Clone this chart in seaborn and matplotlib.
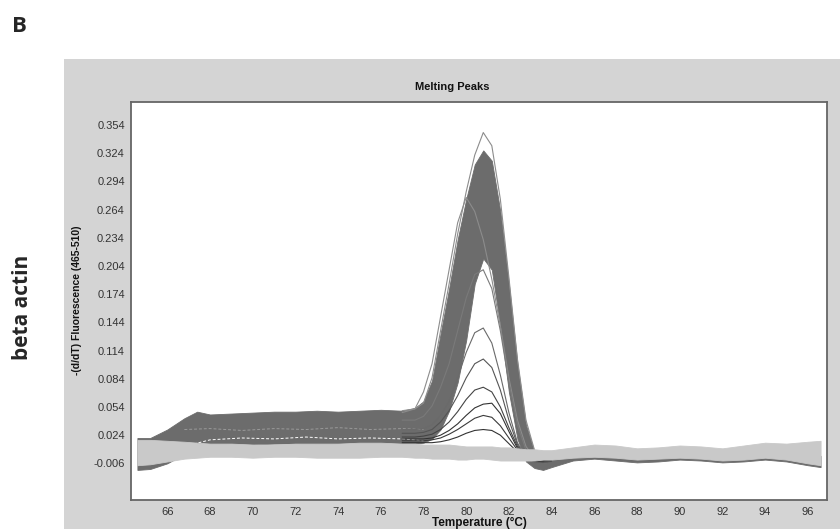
import numpy as np
import pandas as pd
import matplotlib
matplotlib.use("Agg")
import matplotlib.pyplot as plt
from matplotlib.patches import Rectangle
from matplotlib.ticker import MultipleLocator, FormatStrFormatter
import seaborn as sns

# Temperature grid shared by the two envelope bands (deg C)
temp = [64.6, 65.2, 66.0, 66.8, 67.4, 68.0, 69.0, 70.0, 71.0, 72.0, 73.0, 74.0,
        75.0, 76.0, 77.0, 77.6, 78.0, 78.4, 78.8, 79.2, 79.6, 80.0, 80.4, 80.8,
        81.2, 81.6, 82.0, 82.4, 82.8, 83.2, 83.6, 84.0, 85.0, 86.0, 87.0, 88.0,
        89.0, 90.0, 91.0, 92.0, 93.0, 94.0, 95.0, 96.0, 96.6]

# dense mass of beta actin sample curves (upper / lower edge)
band_top = [0.021, 0.021, 0.030, 0.042, 0.049, 0.046, 0.047, 0.048, 0.049, 0.049, 0.050, 0.049,
            0.050, 0.051, 0.050, 0.053, 0.060, 0.082, 0.132, 0.180, 0.232, 0.275, 0.312, 0.327,
            0.316, 0.262, 0.185, 0.100, 0.035, 0.006, 0.000, 0.002, 0.006, 0.008, 0.006, 0.004,
            0.004, 0.005, 0.005, 0.003, 0.004, 0.006, 0.006, 0.004, 0.002]
band_bot = [-0.013, -0.012, -0.006, 0.004, 0.012, 0.014, 0.015, 0.014, 0.015, 0.015, 0.014, 0.015,
            0.015, 0.014, 0.015, 0.015, 0.016, 0.020, 0.030, 0.050, 0.080, 0.125, 0.185, 0.212,
            0.200, 0.140, 0.070, 0.020, -0.004, -0.011, -0.013, -0.010, -0.003, -0.001, -0.003, -0.005,
            -0.004, -0.002, -0.003, -0.005, -0.004, -0.002, -0.004, -0.008, -0.010]

# no-template controls (light grey flat band)
light_top = [0.019, 0.019, 0.018, 0.017, 0.016, 0.015, 0.015, 0.014, 0.014, 0.015, 0.015, 0.015,
             0.016, 0.016, 0.015, 0.015, 0.014, 0.014, 0.014, 0.014, 0.013, 0.012, 0.012, 0.012,
             0.012, 0.011, 0.011, 0.010, 0.009, 0.009, 0.008, 0.008, 0.011, 0.014, 0.013, 0.010,
             0.011, 0.013, 0.012, 0.010, 0.013, 0.016, 0.015, 0.017, 0.018]
light_bot = [-0.008, -0.007, -0.004, -0.001, 0.000, 0.001, 0.001, 0.000, 0.001, 0.001, 0.000, 0.000,
             0.000, 0.001, 0.001, 0.000, 0.000, -0.001, -0.001, -0.001, -0.002, -0.002, -0.001, -0.001,
             -0.002, -0.003, -0.003, -0.003, -0.003, -0.003, -0.002, -0.002, 0.000, 0.001, 0.000, -0.002,
             -0.001, 0.000, -0.001, -0.003, -0.002, 0.000, -0.002, -0.006, -0.008]

# white streaks between sample curves in the baseline band
gap_temp = [66.8, 68.0, 69.5, 71.0, 72.5, 74.0, 75.5, 77.0, 78.0]
gap_low = [0.012, 0.019, 0.021, 0.020, 0.022, 0.020, 0.021, 0.020, 0.018]
gap_high = [0.030, 0.031, 0.029, 0.031, 0.030, 0.032, 0.030, 0.031, 0.030]

# single curves that stand out around the peak
peak_temp = [77.0, 77.6, 78.0, 78.4, 78.8, 79.2, 79.6, 80.0, 80.4, 80.8, 81.2, 81.6,
             82.0, 82.4, 82.8, 83.2, 83.6, 84.0]
curve_max = [0.050, 0.052, 0.058, 0.085, 0.135, 0.185, 0.238, 0.283, 0.322, 0.346, 0.332, 0.275,
             0.192, 0.105, 0.040, 0.008, 0.000, 0.002]
curve_early = [0.048, 0.052, 0.070, 0.100, 0.150, 0.200, 0.250, 0.277, 0.262, 0.232, 0.190, 0.140,
               0.085, 0.040, 0.012, 0.000, -0.004, -0.002]
curve_mid = [0.040, 0.040, 0.044, 0.055, 0.075, 0.100, 0.135, 0.170, 0.195, 0.200, 0.180, 0.135,
             0.080, 0.035, 0.008, -0.004, -0.006, -0.004]
curve_140 = [0.030, 0.030, 0.031, 0.035, 0.045, 0.060, 0.085, 0.112, 0.133, 0.138, 0.122, 0.088,
             0.048, 0.016, 0.000, -0.005, -0.006, -0.004]
curve_105 = [0.026, 0.026, 0.027, 0.030, 0.038, 0.050, 0.066, 0.085, 0.100, 0.105, 0.096, 0.072,
             0.040, 0.014, 0.000, -0.004, -0.005, -0.004]
curve_075 = [0.022, 0.022, 0.023, 0.025, 0.030, 0.038, 0.049, 0.062, 0.072, 0.075, 0.070, 0.054,
             0.032, 0.012, 0.000, -0.004, -0.004, -0.003]
curve_058 = [0.020, 0.020, 0.020, 0.021, 0.024, 0.029, 0.036, 0.045, 0.053, 0.057, 0.058, 0.047,
             0.028, 0.010, 0.000, -0.003, -0.003, -0.002]
curve_045 = [0.018, 0.018, 0.018, 0.019, 0.021, 0.025, 0.030, 0.036, 0.042, 0.045, 0.043, 0.034,
             0.021, 0.008, 0.000, -0.003, -0.003, -0.002]
curve_030 = [0.016, 0.016, 0.016, 0.016, 0.017, 0.019, 0.022, 0.026, 0.029, 0.030, 0.029, 0.024,
             0.015, 0.006, 0.000, -0.002, -0.002, -0.001]

DARK = '#6c6c6c'
LIGHT = '#c9c9c9'
PANEL = '#d4d4d4'

curves = {
    'max': (curve_max, '#8c8c8c'),
    'early': (curve_early, '#8c8c8c'),
    'mid': (curve_mid, '#7a7a7a'),
    'c140': (curve_140, '#6a6a6a'),
    'c105': (curve_105, '#555555'),
    'c075': (curve_075, '#444444'),
    'c058': (curve_058, '#333333'),
    'c045': (curve_045, '#3a3a3a'),
    'c030': (curve_030, '#333333'),
}
df = pd.concat([pd.DataFrame({'temp': peak_temp, 'value': vals, 'curve': name})
                for name, (vals, _) in curves.items()], ignore_index=True)
palette = {name: col for name, (_, col) in curves.items()}

gaps = pd.concat([pd.DataFrame({'temp': gap_temp, 'value': gap_low, 'curve': 'low'}),
                  pd.DataFrame({'temp': gap_temp, 'value': gap_high, 'curve': 'high'})],
                 ignore_index=True)

sns.set_style("white")
plt.rcParams['font.family'] = ['Liberation Sans Narrow', 'Liberation Sans', 'DejaVu Sans']

fig = plt.figure(figsize=(8.4, 5.29), dpi=100)
fig.add_artist(Rectangle((64 / 840, 0), 1, 1 - 59 / 529, transform=fig.transFigure,
                         facecolor=PANEL, edgecolor='none', zorder=0))

ax = fig.add_axes([131 / 840, 1 - 500 / 529, (827 - 131) / 840, (500 - 102) / 529])
ax.set_facecolor('white')

ax.fill_between(temp, band_bot, band_top, color=DARK, lw=0.6, zorder=2)
sns.lineplot(data=gaps, x='temp', y='value', hue='curve', palette={'low': 'white', 'high': '#9a9a9a'},
             estimator=None, sort=False, legend=False, ax=ax, linewidth=0.7, zorder=2.5)
for ln in ax.lines:
    ln.set_dashes([3, 2])
sns.lineplot(data=df, x='temp', y='value', hue='curve', palette=palette, estimator=None,
             sort=False, legend=False, ax=ax, linewidth=0.8, zorder=3)
ax.fill_between(temp, light_bot, light_top, color=LIGHT, lw=0.6, zorder=4)

ax.set_xlim(64.3, 96.9)
ax.set_ylim(-0.045, 0.3785)
ax.set_xticks(np.arange(66, 97, 2))
ax.set_yticks(np.arange(-0.006, 0.36, 0.03))
ax.yaxis.set_minor_locator(MultipleLocator(0.006))
ax.yaxis.set_major_formatter(FormatStrFormatter('%.3f'))
ax.tick_params(which='major', direction='out', length=3, width=0.8, color='#555555',
               labelsize=8, labelcolor='#333333', pad=1.5)
ax.tick_params(which='minor', direction='out', length=2, width=0.6, color='#777777')
ax.tick_params(axis='x', pad=2)
ax.set_xlabel('')
ax.set_ylabel('')
for sp in ax.spines.values():
    sp.set_color('#666666')
    sp.set_linewidth(1.3)

fig.text(452 / 840, 1 - 87 / 529, 'Melting Peaks', ha='center', va='center',
         fontsize=8, fontweight='bold', color='#111111')
fig.text(479 / 840, 1 - 517 / 529, 'Temperature (°C)', ha='center', va='top',
         fontsize=8.5, fontweight='bold', color='#111111')
fig.text(77 / 840, 1 - 300 / 529, '-(d/dT) Fluorescence (465-510)', ha='center', va='center',
         rotation=90, fontsize=7.5, fontweight='bold', color='#111111')
fig.text(12 / 840, 1 - 26 / 529, 'B', ha='left', va='center', fontsize=16,
         fontweight='bold', family=['Open Sans', 'DejaVu Sans'])
fig.text(23 / 840, 1 - 307 / 529, 'beta actin', ha='center', va='center', rotation=90,
         fontsize=15, fontweight='bold', family=['Open Sans', 'DejaVu Sans'])

fig.savefig('out.png', dpi=100)
